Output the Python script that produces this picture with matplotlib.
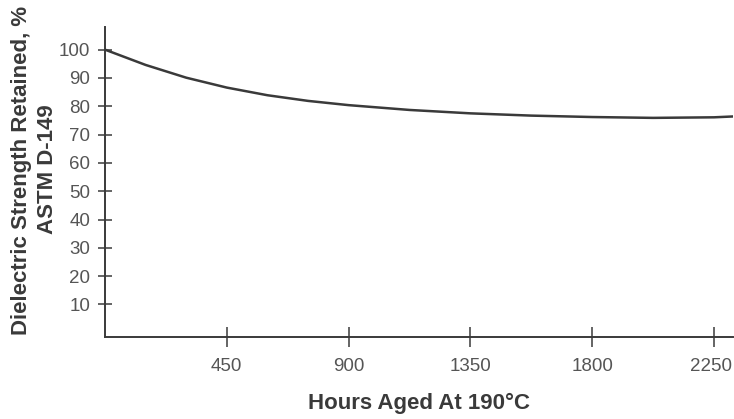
import numpy as np
import matplotlib
matplotlib.use('Agg')
import matplotlib.pyplot as plt
from matplotlib.transforms import ScaledTranslation

# values
hours=[0,150,300,450,600,750,900,1125,1350,1575,1800,2025,2250,2320]
retained=[100,94.6,90.1,86.6,83.9,81.9,80.4,78.7,77.5,76.7,76.2,75.9,76.1,76.4]
xticks=[450,900,1350,1800,2250]
yticks=[10,20,30,40,50,60,70,80,90,100]

plt.rcParams['font.family']=['Liberation Sans','DejaVu Sans']

fig=plt.figure(figsize=(7.34,4.19),dpi=100)
ax=fig.add_axes([105/734,1-337/419,628/734,310/419])
ax.plot(hours,retained,color='#3a3a3a',lw=1.8,solid_capstyle='round')
ax.set_xlim(0,2320); ax.set_ylim(-1.5,108)
for s in ['top','right']: ax.spines[s].set_visible(False)
for s in ['left','bottom']: ax.spines[s].set_color('#3a3a3a'); ax.spines[s].set_linewidth(1.4)
ax.set_xticks(xticks,[str(t) for t in xticks])
ax.set_yticks(yticks,[str(t) for t in yticks])
ax.tick_params(axis='x',direction='inout',length=14,width=1.1,color='#3a3a3a',pad=8,labelsize=13.5,labelcolor='#555555')
ax.tick_params(axis='y',direction='inout',length=9.4,width=1.1,color='#3a3a3a',pad=6,labelsize=13.5,labelcolor='#555555')
# last tick label sits against the right edge, keep it just inside
lab=ax.get_xticklabels()[-1]
lab.set_horizontalalignment('right')
lab.set_transform(lab.get_transform()+ScaledTranslation(0.18,0,fig.dpi_scale_trans))
ax.set_xlabel('Hours Aged At 190°C',fontsize=16,fontweight='bold',color='#3a3a3a',labelpad=13)
fig.text(22/734,1-170/419,'Dielectric Strength Retained, %',rotation=90,ha='center',va='center',fontsize=16,fontweight='bold',color='#3a3a3a')
fig.text(48/734,1-169/419,'ASTM D-149',rotation=90,ha='center',va='center',fontsize=16,fontweight='bold',color='#3a3a3a')
fig.savefig('out.png',dpi=100)
